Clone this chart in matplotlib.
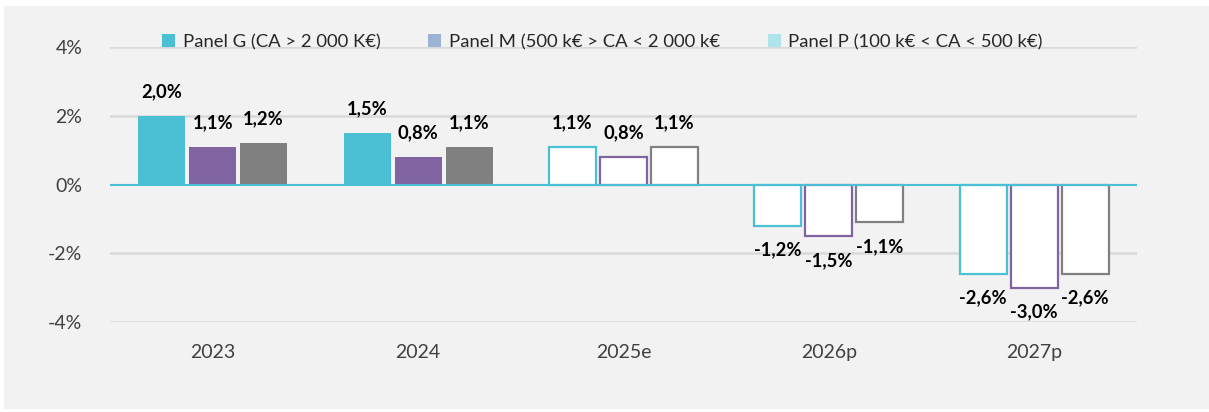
import matplotlib
matplotlib.use("Agg")
import matplotlib.pyplot as plt
import numpy as np
from matplotlib.patches import Rectangle, Patch

categories = ["2023", "2024", "2025e", "2026p", "2027p"]
series_names = ["Panel G (CA > 2 000 K€)", "Panel M (500 k€ > CA < 2 000 k€", "Panel P (100 k€ < CA < 500 k€)"]
panel_g = [2.0, 1.5, 1.1, -1.2, -2.6]
panel_m = [1.1, 0.8, 0.8, -1.5, -3.0]
panel_p = [1.2, 1.1, 1.1, -1.1, -2.6]
yticks = [-4, -2, 0, 2, 4]

bar_colors = ["#4bc0d4", "#8064a2", "#808080"]
legend_colors = ["#4bc0d4", "#9db3d4", "#b0e4ec"]
filled = [True, True, False, False, False]

plt.rcParams['font.family'] = ['Lato', 'DejaVu Sans']

fig = plt.figure(figsize=(12.09, 4.12), dpi=100)
fig.patch.set_facecolor("white")
fig.patches.append(Rectangle((4/1209, 3/412), 1 - 4/1209, 403/412, transform=fig.transFigure,
                             facecolor="#f2f2f2", edgecolor="none", zorder=-10))

ax = fig.add_axes([110/1209, 1 - 322/412, 1027/1209, 275/412])
ax.set_facecolor("none")
ax.set_xlim(-0.5, len(categories) - 0.5)
ax.set_ylim(-4, 4)

for yv in yticks:
    if yv != 0:
        ax.axhline(yv, color="#d9d9d9", lw=1.8, zorder=1)

x = np.arange(len(categories))
offset = 51 / 205.4
width = 47 / 205.4
for si, vals in enumerate([panel_g, panel_m, panel_p]):
    for i, v in enumerate(vals):
        xc = x[i] + (si - 1) * offset
        if filled[i]:
            ax.bar(xc, v, width=width, color=bar_colors[si], edgecolor="none", zorder=2)
        else:
            ax.bar(xc, v, width=width, color="white", edgecolor=bar_colors[si], linewidth=1.6, zorder=2)
        lbl = f"{v:.1f}%".replace(".", ",")
        dy = 17.5 if v >= 0 else -17.5
        ax.annotate(lbl, (xc, v), xytext=(0, dy), textcoords="offset points",
                    ha="center", va="center", fontsize=13.2, fontweight="bold", color="black", zorder=4)

ax.axhline(0, color="#4bc0d4", lw=1.5, zorder=3)

ax.set_xticks(x)
ax.set_xticklabels(categories, fontsize=14, color="#404040")
ax.set_yticks(yticks)
ax.set_yticklabels([f"{t}%" for t in yticks], fontsize=14, color="#404040")
ax.tick_params(length=0)
ax.tick_params(axis="x", pad=16)
ax.tick_params(axis="y", pad=20)
for s in ax.spines.values():
    s.set_visible(False)

handles = [Patch(facecolor=c, edgecolor="none") for c in legend_colors]
leg = fig.legend(handles, series_names, loc="center left", bbox_to_anchor=(153/1209, 1 - 42/412),
                 ncol=3, frameon=False, fontsize=13.3, handlelength=0.7, handleheight=0.7,
                 handletextpad=0.4, columnspacing=2.6, labelcolor="#262626", borderpad=0)

fig.savefig("out.png", dpi=100)
